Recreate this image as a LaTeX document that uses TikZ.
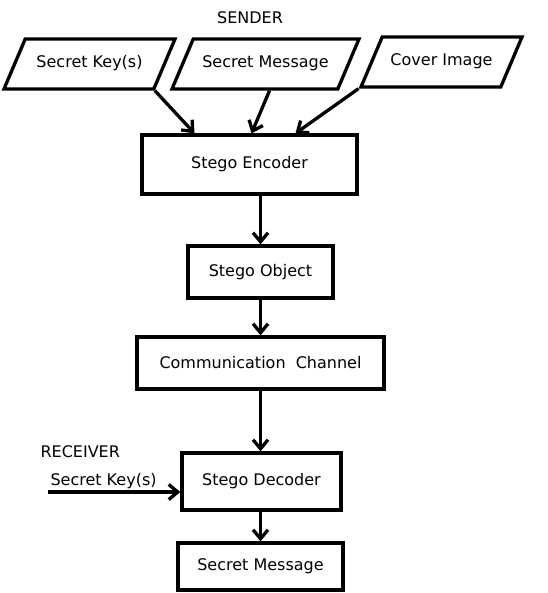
\documentclass[tikz,border=0pt]{standalone}
\usepackage{fontspec}
\setmainfont{DejaVu Sans}
\usetikzlibrary{shapes.geometric,arrows.meta}

\tikzset{
  box/.style={draw, line width=3.3pt, rectangle, inner sep=0pt},
  slanted/.style={draw, line width=3.3pt, trapezium, trapezium left angle=67,
    trapezium right angle=113, trapezium stretches body, inner xsep=0pt,
    inner ysep=17.5pt, text height=11pt, text depth=4pt},
  flow/.style={line width=3.3pt, -{Straight Barb[length=9pt,width=15pt,line width=3.3pt]}}
}

\begin{document}
\begin{tikzpicture}[x=1pt, y=-1pt, every node/.style={font=\fontsize{16}{19}\selectfont}]
  \useasboundingbox (0,0) rectangle (547,593);

  % sender side
  \node (sender) at (250,18) {SENDER};
  \node[slanted, minimum width=171pt] (key) at (89.5,64) {Secret Key(s)};
  \node[slanted, minimum width=187pt] (msg) at (265.5,64) {Secret Message};
  \node[slanted, minimum width=161pt] (cover) at (441.5,62) {Cover Image};

  \node[box, minimum width=215pt, minimum height=59pt] (enc) at (249.5,164.5) {Stego Encoder};
  \node[box, minimum width=145pt, minimum height=52pt] (obj) at (260.5,272) {Stego Object};
  \node[box, minimum width=247pt, minimum height=52pt] (chan) at (260.5,363) {Communication\ \ Channel};

  % receiver side
  \node[anchor=west] (receiver) at (37,452) {RECEIVER};
  \node[box, minimum width=159pt, minimum height=57pt] (dec) at (261.5,481.5) {Stego Decoder};
  \node[box, minimum width=165pt, minimum height=47pt] (out) at (260.5,566.5) {Secret Message};
  \node[anchor=west] (rkey) at (47,481) {Secret Key(s)};
  \coordinate (rkeyend) at (48,492);

  \draw[flow] (key.bottom right corner) -- ([xshift=-55pt]enc.north);
  \draw[flow] ([xshift=4pt]msg.south) -- ([xshift=2pt]enc.north);
  \draw[flow] (cover.bottom left corner) -- ([xshift=46pt]enc.north);
  \draw[flow] (enc.south -| obj.north) -- (obj.north);
  \draw[flow] (obj) -- (chan);
  \draw[flow] (chan.south) -- (chan.south |- dec.north);
  \draw[flow] (dec.south -| out.north) -- (out.north);
  \draw[flow] (rkeyend) -- (rkeyend -| dec.west);
\end{tikzpicture}
\end{document}
